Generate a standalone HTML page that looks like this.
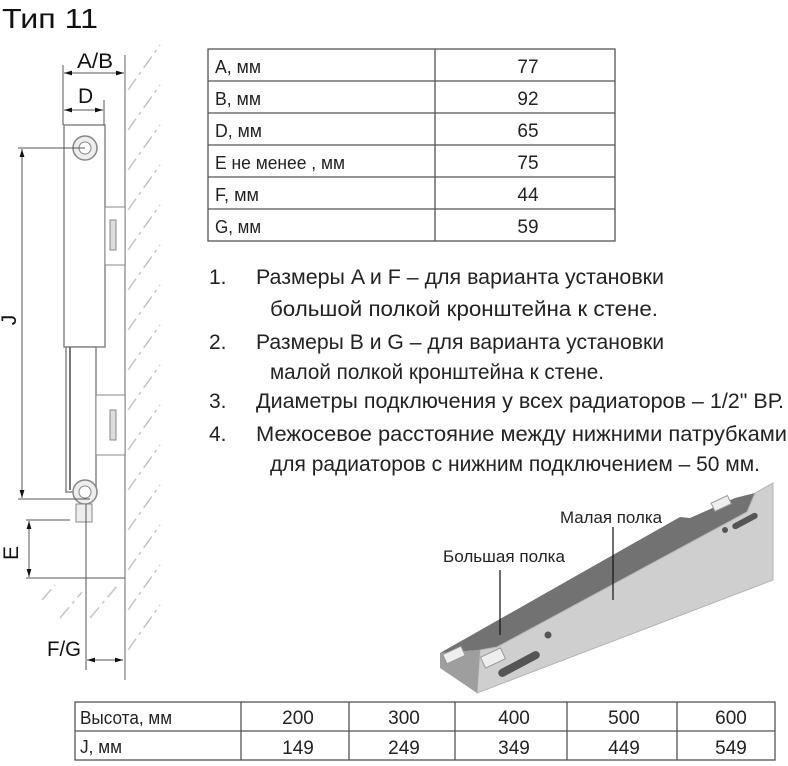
<!DOCTYPE html>
<html><head><meta charset="utf-8"><style>
html,body{margin:0;padding:0;background:#fff;}
svg{display:block;font-family:"Liberation Sans",sans-serif;}
</style></head><body>
<svg width="788" height="766" viewBox="0 0 788 766" xmlns="http://www.w3.org/2000/svg">
<defs>
<marker id="ar" viewBox="0 0 10 10" refX="10" refY="5" markerWidth="8" markerHeight="8" orient="auto-start-reverse"><path d="M0,2 L10,5 L0,8 z" fill="#111"/></marker>
</defs>
<text x="2" y="28" font-size="28" textLength="96" lengthAdjust="spacingAndGlyphs" fill="#111">Тип 11</text>

<!-- wall -->
<line x1="125" y1="55" x2="125" y2="680" stroke="#999" stroke-width="1.5"/>
<g stroke="#c4c4c4" stroke-width="1.5" stroke-dasharray="14 5 3 5">
<line x1="128" y1="90" x2="160" y2="45"/><line x1="128" y1="130" x2="160" y2="85"/>
<line x1="128" y1="170" x2="160" y2="125"/><line x1="128" y1="210" x2="160" y2="165"/>
<line x1="128" y1="250" x2="160" y2="205"/><line x1="128" y1="290" x2="160" y2="245"/>
<line x1="128" y1="330" x2="160" y2="285"/><line x1="128" y1="370" x2="160" y2="325"/>
<line x1="128" y1="410" x2="160" y2="365"/><line x1="128" y1="450" x2="160" y2="405"/>
<line x1="128" y1="490" x2="160" y2="445"/><line x1="128" y1="530" x2="160" y2="485"/>
<line x1="128" y1="570" x2="160" y2="525"/><line x1="128" y1="610" x2="160" y2="565"/>
<line x1="128" y1="650" x2="160" y2="605"/>
<line x1="42" y1="600" x2="55" y2="585"/><line x1="60" y1="618" x2="82" y2="592"/>
<line x1="90" y1="618" x2="118" y2="585"/>
</g>
<!-- radiator -->
<rect x="64" y="125" width="41" height="222" fill="#fff" stroke="#888" stroke-width="1.5"/>
<rect x="66" y="347" width="30" height="145" fill="#fff" stroke="#888" stroke-width="1.5"/>
<line x1="70" y1="347" x2="70" y2="490" stroke="#777" stroke-width="2"/>
<rect x="105" y="207" width="20" height="58" fill="#fff" stroke="#888"/>
<rect x="110" y="220" width="6" height="30" fill="#ddd" stroke="#888"/>
<rect x="96" y="395" width="29" height="60" fill="#fff" stroke="#888"/>
<rect x="110" y="410" width="6" height="30" fill="#ddd" stroke="#888"/>
<circle cx="85" cy="148" r="12" fill="#eee" stroke="#888" stroke-width="1.5"/>
<circle cx="85" cy="148" r="6" fill="#fff" stroke="#888"/>
<circle cx="85" cy="492" r="12" fill="#eee" stroke="#888" stroke-width="1.5"/>
<circle cx="85" cy="492" r="6" fill="#fff" stroke="#888"/>
<rect x="76" y="504" width="16" height="18" fill="#eee" stroke="#888"/>
<!-- dims -->
<g stroke="#555" stroke-width="1">
<line x1="63" y1="65" x2="63" y2="125"/><line x1="104" y1="100" x2="104" y2="125"/>
<line x1="64" y1="73" x2="124" y2="73" marker-start="url(#ar)" marker-end="url(#ar)"/>
<line x1="64" y1="110" x2="103" y2="110" marker-start="url(#ar)" marker-end="url(#ar)"/>
<line x1="18" y1="148" x2="85" y2="148"/><line x1="18" y1="499" x2="90" y2="499"/>
<line x1="22" y1="149" x2="22" y2="498" marker-start="url(#ar)" marker-end="url(#ar)"/>
<line x1="26" y1="520" x2="70" y2="520"/>
<line x1="26" y1="578" x2="125" y2="578"/>
<line x1="29" y1="521" x2="29" y2="577" marker-start="url(#ar)" marker-end="url(#ar)"/>
<line x1="86" y1="504" x2="86" y2="670"/>
<line x1="87" y1="660" x2="123" y2="660" marker-start="url(#ar)" marker-end="url(#ar)"/>
</g>
<text x="77" y="68" font-size="21" textLength="36" lengthAdjust="spacingAndGlyphs" fill="#111">A/B</text>
<text x="78" y="103" font-size="21" fill="#111">D</text>
<text transform="translate(16,320) rotate(-90)" font-size="21" text-anchor="middle" fill="#111">J</text>
<text transform="translate(18,553) rotate(-90)" font-size="21" text-anchor="middle" fill="#111">E</text>
<text x="47" y="656" font-size="21" textLength="34" lengthAdjust="spacingAndGlyphs" fill="#111">F/G</text>

<!-- top table -->
<g stroke="#555" stroke-width="1.3" fill="none">
<rect x="208" y="49" width="407" height="192"/>
<line x1="435" y1="49" x2="435" y2="241"/>
<line x1="208" y1="81" x2="615" y2="81"/><line x1="208" y1="113" x2="615" y2="113"/>
<line x1="208" y1="145" x2="615" y2="145"/><line x1="208" y1="177" x2="615" y2="177"/>
<line x1="208" y1="209" x2="615" y2="209"/>
</g>
<g font-size="18" fill="#222">
<text x="215" y="73" textLength="46" lengthAdjust="spacingAndGlyphs">A, мм</text>
<text x="215" y="105" textLength="46" lengthAdjust="spacingAndGlyphs">B, мм</text>
<text x="215" y="137" textLength="47" lengthAdjust="spacingAndGlyphs">D, мм</text>
<text x="215" y="169" textLength="130" lengthAdjust="spacingAndGlyphs">E не менее , мм</text>
<text x="215" y="201" textLength="44" lengthAdjust="spacingAndGlyphs">F, мм</text>
<text x="215" y="233" textLength="46" lengthAdjust="spacingAndGlyphs">G, мм</text>
</g>
<g font-size="19" fill="#222" text-anchor="middle">
<text x="528" y="73">77</text><text x="528" y="105">92</text><text x="528" y="137">65</text>
<text x="528" y="169">75</text><text x="528" y="201">44</text><text x="528" y="233">59</text>
</g>

<!-- notes -->
<g font-size="21" fill="#222">
<text x="209" y="284">1.</text><text x="256" y="284" textLength="408" lengthAdjust="spacingAndGlyphs">Размеры A и F – для варианта установки</text>
<text x="270" y="316" textLength="388" lengthAdjust="spacingAndGlyphs">большой полкой кронштейна к стене.</text>
<text x="209" y="349">2.</text><text x="256" y="349" textLength="408" lengthAdjust="spacingAndGlyphs">Размеры B и G – для варианта установки</text>
<text x="270" y="379" textLength="334" lengthAdjust="spacingAndGlyphs">малой полкой кронштейна к стене.</text>
<text x="209" y="408">3.</text><text x="256" y="408" textLength="528" lengthAdjust="spacingAndGlyphs">Диаметры подключения у всех радиаторов – 1/2" ВР.</text>
<text x="209" y="441">4.</text><text x="256" y="441" textLength="531" lengthAdjust="spacingAndGlyphs">Межосевое расстояние между нижними патрубками</text>
<text x="270" y="471" textLength="490" lengthAdjust="spacingAndGlyphs">для радиаторов с нижним подключением – 50 мм.</text>
</g>

<!-- bracket -->
<polygon points="440,653 680,517 690,518 735,498 755,493 747,512 497,647 480,650" fill="#727272"/>
<polygon points="480,650 497,647 747,512 755,493 773,483 773,580 477,693" fill="#cfcfcf" stroke="#b5b5b5"/>
<polygon points="440,653 480,650 477,693 440,668" fill="#9e9e9e"/>
<rect x="444" y="650" width="20" height="10" fill="#eee" stroke="#999" transform="rotate(-25 454 655)"/>
<rect x="482" y="652" width="22" height="12" fill="#eee" stroke="#999" transform="rotate(-25 493 658)"/>
<rect x="712" y="499" width="18" height="9" fill="#eee" stroke="#999" transform="rotate(-25 721 503)"/>
<rect x="496" y="660" width="46" height="8" rx="4" fill="#555" transform="rotate(-28 519 664)"/>
<rect x="731" y="518" width="28" height="6" rx="3" fill="#555" transform="rotate(-28 745 521)"/>
<circle cx="548" cy="635" r="3.5" fill="#555"/><circle cx="725" cy="530" r="3" fill="#555"/>
<line x1="613" y1="527" x2="613" y2="600" stroke="#111" stroke-width="1.2"/>
<line x1="500" y1="570" x2="500" y2="635" stroke="#111" stroke-width="1.2"/>
<text x="560" y="523" font-size="17" fill="#222" textLength="102" lengthAdjust="spacingAndGlyphs">Малая полка</text>
<text x="443" y="562" font-size="17" fill="#222" textLength="122" lengthAdjust="spacingAndGlyphs">Большая полка</text>

<!-- bottom table -->
<g stroke="#555" stroke-width="1.3" fill="none">
<rect x="75" y="702" width="700" height="58"/>
<line x1="75" y1="731" x2="775" y2="731"/>
<line x1="241" y1="702" x2="241" y2="760"/><line x1="349" y1="702" x2="349" y2="760"/>
<line x1="455" y1="702" x2="455" y2="760"/><line x1="567" y1="702" x2="567" y2="760"/>
<line x1="677" y1="702" x2="677" y2="760"/>
</g>
<g font-size="18" fill="#222">
<text x="80" y="724" textLength="92" lengthAdjust="spacingAndGlyphs">Высота, мм</text>
<text x="80" y="753" textLength="42" lengthAdjust="spacingAndGlyphs">J, мм</text>
</g>
<g font-size="19" fill="#222" text-anchor="middle">
<text x="298" y="724">200</text><text x="404" y="724">300</text><text x="514" y="724">400</text><text x="624" y="724">500</text><text x="731" y="724">600</text>
<text x="298" y="754">149</text><text x="404" y="754">249</text><text x="514" y="754">349</text><text x="624" y="754">449</text><text x="731" y="754">549</text>
</g>
</svg>
</body></html>
